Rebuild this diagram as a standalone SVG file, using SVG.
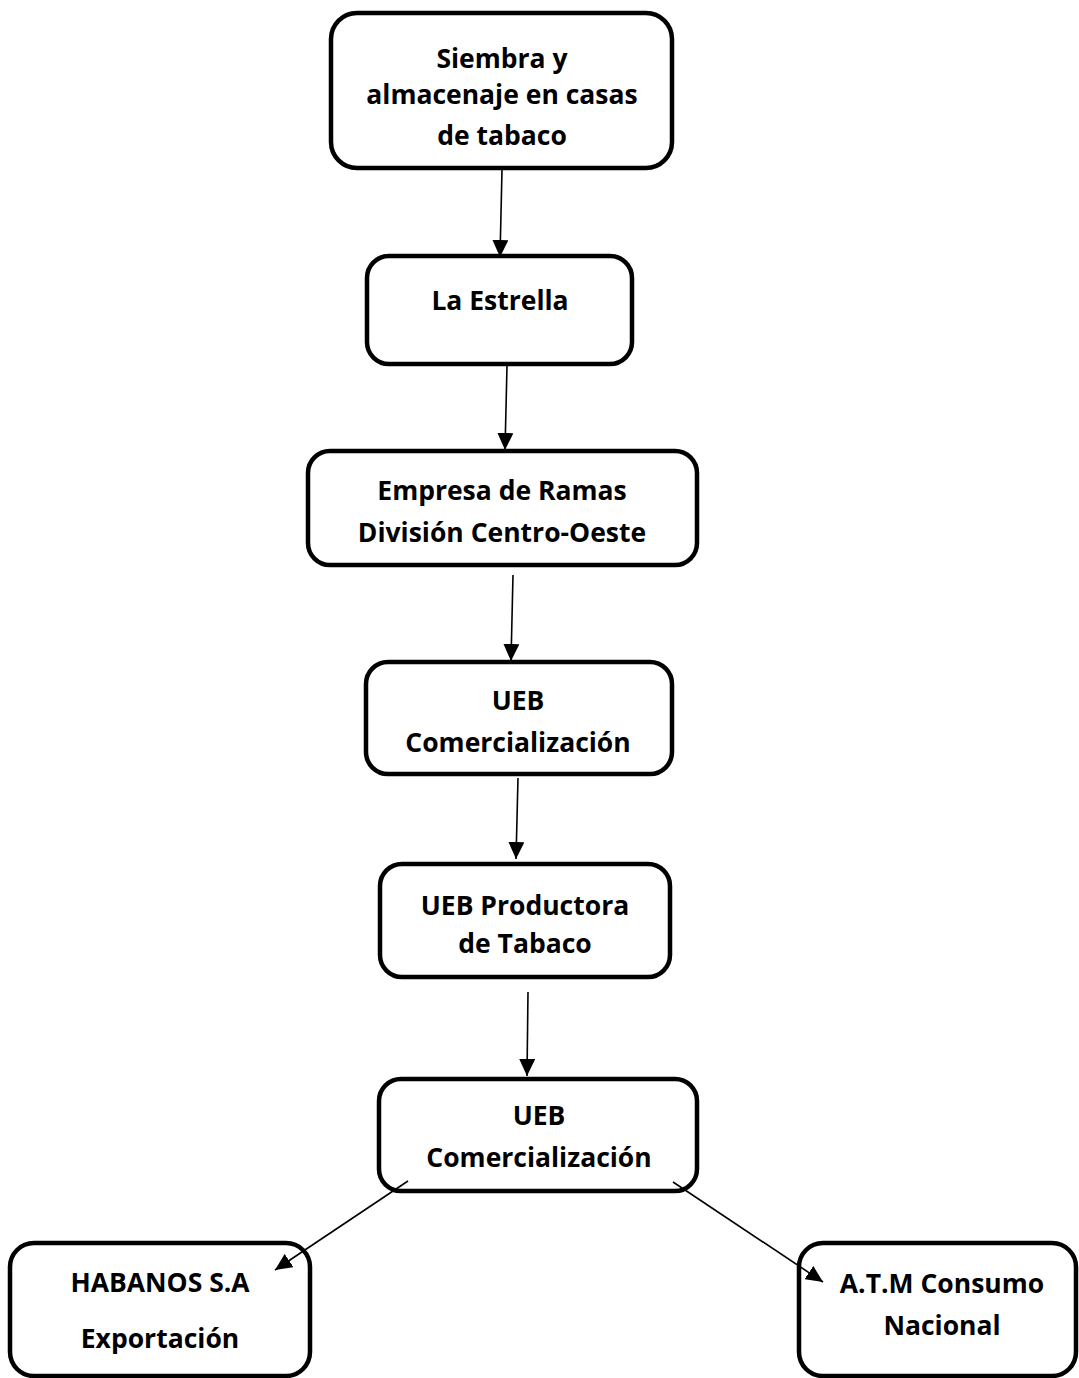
<svg xmlns="http://www.w3.org/2000/svg" width="1079" height="1378" viewBox="0 0 1079 1378">
<defs>
<style>
.box{fill:#fff;stroke:#000;stroke-width:4.5}
.lbl{font-family:"Open Sans","Liberation Sans",sans-serif;font-weight:bold;font-size:26.5px;fill:#000;text-anchor:middle}
.conn{stroke:#000;stroke-width:1.6;fill:none;marker-end:url(#ah)}
</style>
<marker id="ah" viewBox="0 0 10 10" refX="10" refY="5" markerWidth="17" markerHeight="16" markerUnits="userSpaceOnUse" orient="auto" preserveAspectRatio="none"><path d="M0,0 L10,5 L0,10 z" fill="#000"/></marker>
</defs>
<rect width="1079" height="1378" fill="#fff"/>
<g id="n1"><rect class="box" x="331" y="13" width="341" height="155" rx="26"/>
<text class="lbl" x="502" y="68">Siembra y</text>
<text class="lbl" x="502" y="104">almacenaje en casas</text>
<text class="lbl" x="502" y="145">de tabaco</text></g>
<g id="n2"><rect class="box" x="367" y="256" width="265" height="108" rx="22"/>
<text class="lbl" x="500" y="310">La Estrella</text></g>
<g id="n3"><rect class="box" x="308" y="451" width="389" height="114" rx="22"/>
<text class="lbl" x="502" y="500">Empresa de Ramas</text>
<text class="lbl" x="502" y="542">División Centro-Oeste</text></g>
<g id="n4"><rect class="box" x="366" y="662" width="306" height="112" rx="22"/>
<text class="lbl" x="518" y="710">UEB</text>
<text class="lbl" x="518" y="752">Comercialización</text></g>
<g id="n5"><rect class="box" x="380" y="864" width="290" height="113" rx="22"/>
<text class="lbl" x="525" y="915">UEB Productora</text>
<text class="lbl" x="525" y="953">de Tabaco</text></g>
<g id="n6"><rect class="box" x="379" y="1079" width="318" height="112" rx="22"/>
<text class="lbl" x="539" y="1125">UEB</text>
<text class="lbl" x="539" y="1167">Comercialización</text></g>
<g id="n7"><rect class="box" x="10" y="1243" width="300" height="133" rx="24"/>
<text class="lbl" x="160" y="1292">HABANOS S.A</text>
<text class="lbl" x="160" y="1348">Exportación</text></g>
<g id="n8"><rect class="box" x="799" y="1243" width="277" height="133" rx="24"/>
<text class="lbl" x="942" y="1293">A.T.M Consumo</text>
<text class="lbl" x="942" y="1335">Nacional</text></g>
<g id="connectors">
<line class="conn" x1="502" y1="170" x2="500" y2="257"/>
<line class="conn" x1="507" y1="366" x2="505" y2="450"/>
<line class="conn" x1="513" y1="575" x2="511" y2="661"/>
<line class="conn" x1="518" y1="778" x2="516" y2="859"/>
<line class="conn" x1="528" y1="992" x2="527" y2="1076"/>
<line class="conn" x1="408" y1="1181" x2="275" y2="1270"/>
<line class="conn" x1="673" y1="1182" x2="823" y2="1282"/>
</g>
</svg>
